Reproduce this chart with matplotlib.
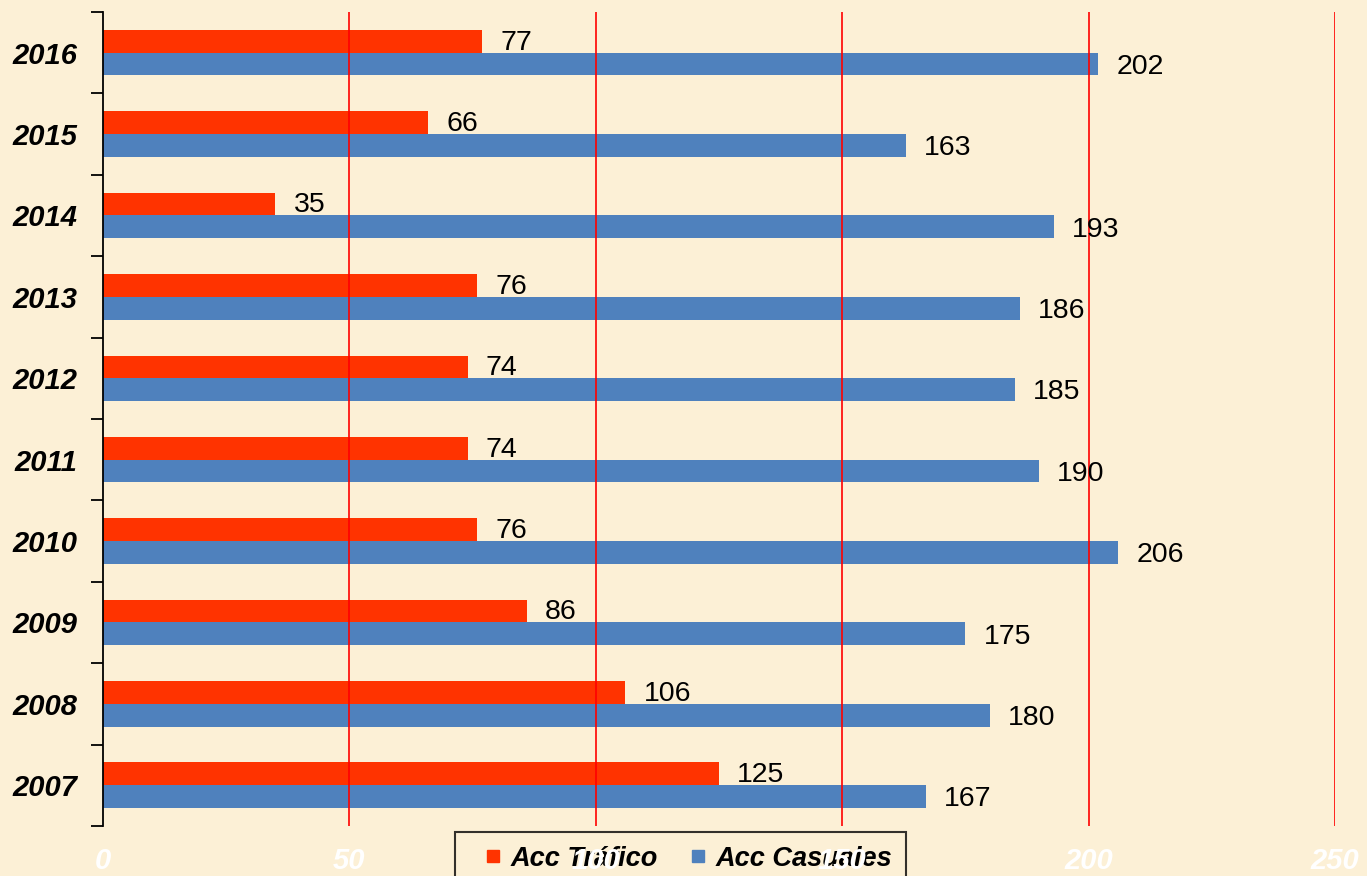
import numpy as np
import matplotlib.pyplot as plt
from matplotlib.lines import Line2D

years = ['2007', '2008', '2009', '2010', '2011', '2012', '2013', '2014', '2015', '2016']
trafico = [125, 106, 86, 76, 74, 74, 76, 35, 66, 77]
casuales = [167, 180, 175, 206, 190, 185, 186, 193, 163, 202]
xticks = [0, 50, 100, 150, 200, 250]

bg = '#FCF0D6'
red = '#FF3300'
blue = '#4F81BD'

plt.rcParams['font.family'] = ['Liberation Sans', 'DejaVu Sans']

fig = plt.figure(figsize=(13.67, 8.76), dpi=100, facecolor=bg)
ax = fig.add_axes([0.0753, 0.0571, 0.9013, 0.9292])
ax.set_facecolor(bg)

y = np.arange(len(years))
h = 0.28
ax.barh(y + h / 2, trafico, height=h, color=red, zorder=2)
ax.barh(y - h / 2, casuales, height=h, color=blue, zorder=2)

# value labels
for yi, v in zip(y, trafico):
    ax.annotate(str(v), (v, yi + h / 2), xytext=(13, -1), textcoords='offset points',
                va='center', ha='left', fontsize=20.5, color='black', zorder=4)
for yi, v in zip(y, casuales):
    ax.annotate(str(v), (v, yi - h / 2), xytext=(13, -2), textcoords='offset points',
                va='center', ha='left', fontsize=20.5, color='black', zorder=4)

# red vertical gridlines
for xv in xticks[1:]:
    ax.axvline(xv, color='#FF0000', lw=1.2, zorder=3)

ax.set_xlim(0, 250)
ax.set_ylim(-0.5, len(years) - 0.5)

ax.set_xticks(xticks)
ax.set_xticklabels([str(t) for t in xticks], color='white', fontsize=21,
                   fontweight='bold', fontstyle='italic')
ax.tick_params(axis='x', length=0, pad=15)

# category boundary ticks + centred labels
ax.set_yticks(np.arange(len(years) + 1) - 0.5)
ax.set_yticklabels([])
ax.tick_params(axis='y', which='major', length=9, width=1.3, direction='out')
ax.set_yticks(y, minor=True)
ax.set_yticklabels(years, minor=True, fontsize=21, fontweight='bold', fontstyle='italic')
ax.tick_params(axis='y', which='minor', length=0, pad=18.5)

for s in ['top', 'right', 'bottom']:
    ax.spines[s].set_visible(False)
ax.spines['left'].set_linewidth(1.3)
ax.spines['left'].set_zorder(5)

handles = [Line2D([], [], marker='s', color=red, linestyle='none', markersize=9),
           Line2D([], [], marker='s', color=blue, linestyle='none', markersize=9)]
leg = ax.legend(handles, ['Acc Tráfico', 'Acc Casuales'],
                loc='upper left', bbox_to_anchor=(0.333, 0.050),
                bbox_transform=fig.transFigure, ncol=2, borderaxespad=0,
                frameon=True, fancybox=False, edgecolor='black', facecolor='none',
                handlelength=1.8, handletextpad=-0.25,
                columnspacing=0.57, borderpad=0.5,
                prop={'size': 19.5, 'weight': 'bold', 'style': 'italic'})
leg.get_frame().set_linewidth(1.5)
leg.set_zorder(1)

fig.savefig('out.png', dpi=100, facecolor=bg)
